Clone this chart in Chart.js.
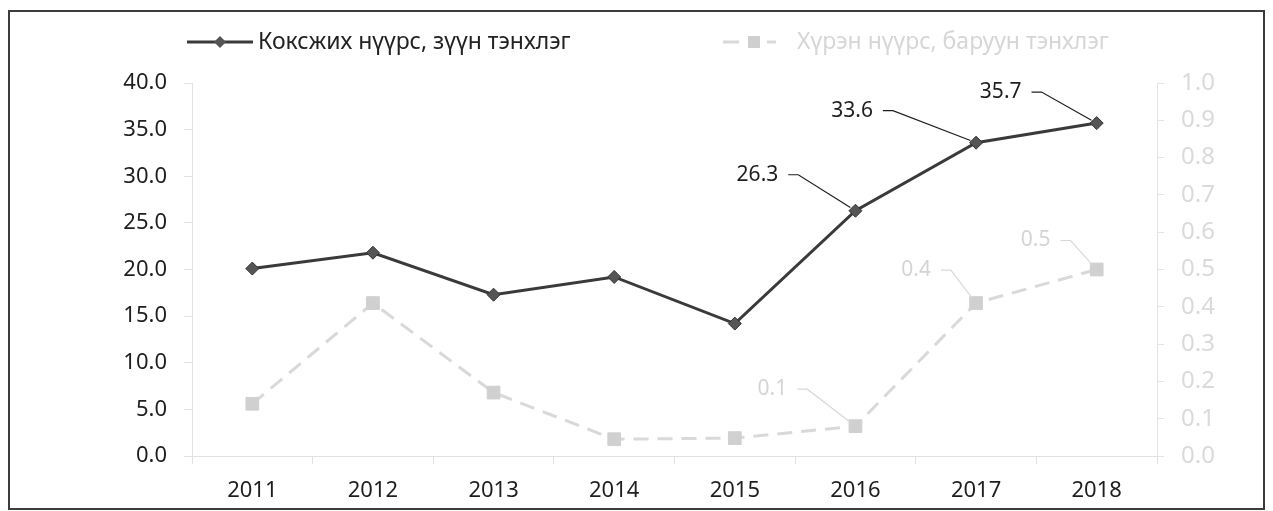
<!DOCTYPE html>
<html>
<head>
<meta charset="utf-8">
<script src="https://cdn.jsdelivr.net/npm/chart.js@4.4.0/dist/chart.umd.min.js"></script>
<style>
    body { margin: 0; background: #fff; }
    #cadre { position: relative; width: 1273px; height: 511px; }
</style>
</head>
<body>
<div id="cadre"><canvas id="lineChart"></canvas></div>
<script>
// Data
var annees = ['2011', '2012', '2013', '2014', '2015', '2016', '2017', '2018'];
var koksjikhNuurs = [20.1, 21.8, 17.3, 19.2, 14.2, 26.3, 33.6, 35.7];
var khurenNuurs = [0.14, 0.41, 0.17, 0.045, 0.048, 0.08, 0.41, 0.50];
var nomsSeries = ['Коксжих нүүрс, зүүн тэнхлэг', 'Хүрэн нүүрс, баруун тэнхлэг'];
var anneesEtiquetees = [5, 6, 7];

var noir = '#3a3a3a';
var gris = '#d9d9d9';

// label offsets (from the point) for the callout labels
var decalages = [
    [{ dx: -98, dy: -36 }, { dx: -124, dy: -32 }, { dx: -96, dy: -31 }],
    [{ dx: -83, dy: -37 }, { dx: -60, dy: -33 }, { dx: -61, dy: -29 }]
];

Chart.defaults.font.family = "'Noto Sans', sans-serif";

// frame + legend, drawn by hand
var cadrePlugin = {
    id: 'cadrePlugin',
    beforeDraw: function (chart) {
        var ctx = chart.ctx;
        ctx.save();
        ctx.fillStyle = '#fff';
        ctx.fillRect(0, 0, chart.width, chart.height);
        ctx.restore();
    },
    afterDraw: function (chart) {
        var ctx = chart.ctx;
        ctx.save();
        ctx.strokeStyle = '#3c3c3c';
        ctx.lineWidth = 2;
        ctx.strokeRect(9, 11, chart.width - 18, chart.height - 13);

        // legend item 1
        var y = 42;
        ctx.strokeStyle = noir;
        ctx.lineWidth = 3;
        ctx.beginPath();
        ctx.moveTo(187, y);
        ctx.lineTo(253, y);
        ctx.stroke();
        ctx.fillStyle = '#555';
        ctx.beginPath();
        ctx.moveTo(220 - 6, y);
        ctx.lineTo(220, y - 6);
        ctx.lineTo(220 + 6, y);
        ctx.lineTo(220, y + 6);
        ctx.closePath();
        ctx.fill();
        ctx.font = "23px 'Noto Sans'";
        ctx.textBaseline = 'middle';
        ctx.textAlign = 'left';
        ctx.fillStyle = '#222';
        ctx.fillText(nomsSeries[0], 258, y);

        // legend item 2
        ctx.strokeStyle = gris;
        ctx.beginPath();
        ctx.moveTo(723, y);
        ctx.lineTo(739, y);
        ctx.moveTo(767, y);
        ctx.lineTo(776, y);
        ctx.stroke();
        ctx.fillStyle = '#cfcfcf';
        ctx.fillRect(748, y - 6, 12, 12);
        ctx.fillStyle = '#d6d6d6';
        ctx.font = "23px 'Noto Sans'";
        ctx.fillText(nomsSeries[1], 797, y);
        ctx.restore();
    }
};

// value labels with leader lines
var etiquettesPlugin = {
    id: 'etiquettesPlugin',
    afterDatasetsDraw: function (chart) {
        var ctx = chart.ctx;
        ctx.save();
        ctx.font = "21px 'Noto Sans'";
        ctx.textAlign = 'center';
        ctx.textBaseline = 'middle';
        chart.data.datasets.forEach(function (ds, d) {
            var meta = chart.getDatasetMeta(d);
            anneesEtiquetees.forEach(function (idx, k) {
                var p = meta.data[idx];
                var off = decalages[d][k];
                var txt = ds.data[idx].toFixed(1);
                var tx = p.x + off.dx;
                var ty = p.y + off.dy;
                var w = ctx.measureText(txt).width;
                ctx.fillStyle = d === 0 ? '#1e1e1e' : '#d4d4d4';
                ctx.fillText(txt, tx, ty);

                var x0 = tx + w / 2 + 10;
                var x1 = x0 + 10;
                var vx = p.x - x1, vy = p.y - ty;
                var len = Math.sqrt(vx * vx + vy * vy);
                var ex = p.x - vx / len * 6;
                var ey = p.y - vy / len * 6;
                ctx.strokeStyle = d === 0 ? '#1e1e1e' : '#d9d9d9';
                ctx.lineWidth = 1.2;
                ctx.beginPath();
                ctx.moveTo(x0, ty);
                ctx.lineTo(x1, ty);
                ctx.lineTo(ex, ey);
                ctx.stroke();
            });
        });
        ctx.restore();
    }
};

var ctx = document.getElementById('lineChart').getContext('2d');
var myChart = new Chart(ctx, {
    type: 'line',
    data: {
        labels: annees,
        datasets: [{
            label: nomsSeries[0],
            data: koksjikhNuurs,
            yAxisID: 'y',
            borderColor: noir,
            borderWidth: 3,
            pointStyle: 'rectRot',
            pointRadius: 6.5,
            pointBackgroundColor: '#555',
            pointBorderColor: '#333',
            pointBorderWidth: 1,
            tension: 0
        }, {
            label: nomsSeries[1],
            data: khurenNuurs,
            yAxisID: 'y1',
            borderColor: gris,
            borderWidth: 3,
            borderDash: [15, 9],
            pointStyle: 'rect',
            pointRadius: 9,
            pointBackgroundColor: '#d0d0d0',
            pointBorderColor: '#d0d0d0',
            pointBorderWidth: 1,
            tension: 0
        }]
    },
    options: {
        responsive: true,
        maintainAspectRatio: false,
        animation: false,
        layout: { padding: { top: 83, left: 0, right: 0, bottom: 0 } },
        plugins: {
            legend: { display: false },
            tooltip: { enabled: false }
        },
        scales: {
            x: {
                offset: true,
                afterFit: function (s) { s.height = 55; },
                grid: { offset: true, drawOnChartArea: false, tickLength: 8, color: '#e2e2e2' },
                border: { color: '#e2e2e2' },
                ticks: { color: '#1e1e1e', font: { size: 22 }, padding: 14 }
            },
            y: {
                position: 'left',
                min: 0,
                max: 40,
                afterFit: function (s) { s.width = 192; },
                grid: { drawOnChartArea: false, tickLength: 8, color: '#e2e2e2' },
                border: { color: '#e2e2e2' },
                ticks: {
                    stepSize: 5,
                    color: '#1e1e1e',
                    font: { size: 22 },
                    padding: 17,
                    callback: function (v) { return v.toFixed(1); }
                }
            },
            y1: {
                position: 'right',
                min: 0,
                max: 1,
                afterFit: function (s) { s.width = 116; },
                grid: { drawOnChartArea: false, tickLength: 7, color: '#e4e4e4' },
                border: { color: '#e4e4e4' },
                ticks: {
                    stepSize: 0.1,
                    color: '#dadada',
                    font: { size: 24 },
                    padding: 17,
                    callback: function (v) { return v.toFixed(1); }
                }
            }
        }
    },
    plugins: [cadrePlugin, etiquettesPlugin]
});
</script>
</body>
</html>
